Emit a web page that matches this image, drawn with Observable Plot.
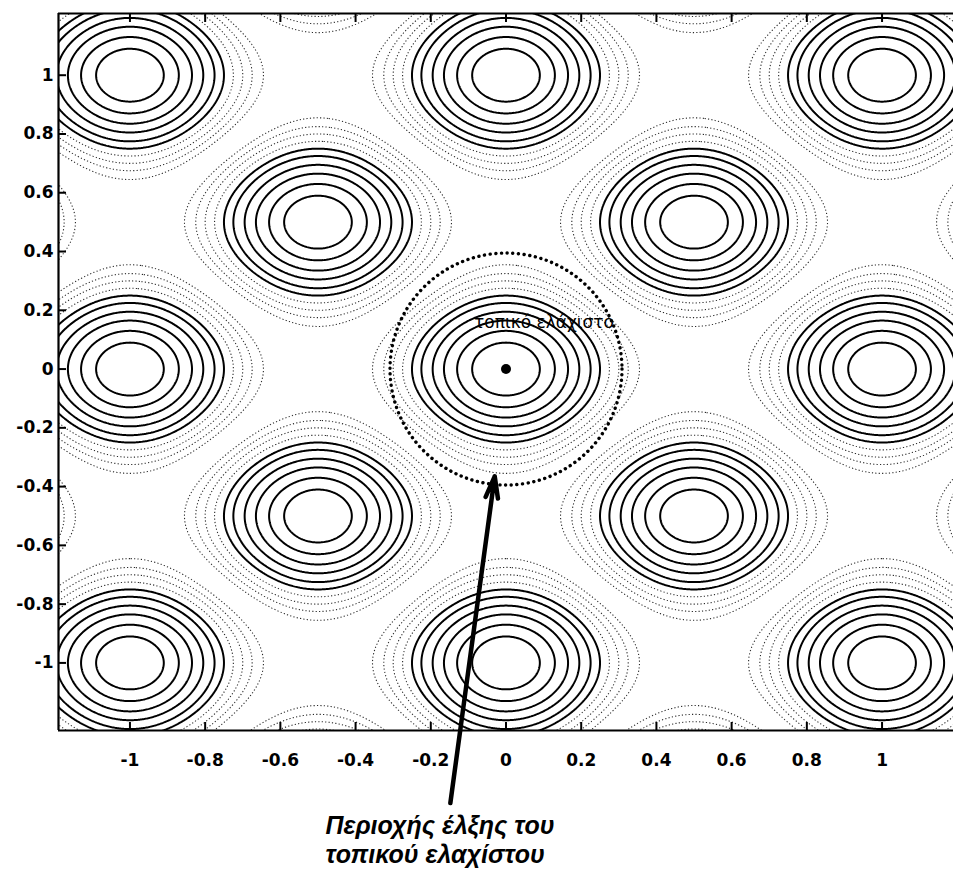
<!DOCTYPE html>
<html>
<head>
<meta charset="utf-8">
<script src="https://cdn.jsdelivr.net/npm/d3@7"></script>
<script src="https://cdn.jsdelivr.net/npm/@observablehq/plot@0.6"></script>
<style>
  body { margin: 0; background: #fff; }
  #chart svg { display: block; }
</style>
</head>
<body>
<div id="chart"></div>
<script>
// Positions of the local minima (centres of the ring families)
// (including the ones just outside the frame whose rings enter at the edges).
const minimaX = [-1.5, -0.5, 0.5, 1.5,  -1, 0, 1,  -1.5, -0.5, 0.5, 1.5,  -1, 0, 1,  -1.5, -0.5, 0.5, 1.5,  -1, 0, 1,  -1.5, -0.5, 0.5, 1.5];
const minimaY = [ 1.5,  1.5, 1.5, 1.5,   1, 1, 1,   0.5,  0.5, 0.5, 0.5,   0, 0, 0,  -0.5, -0.5, -0.5, -0.5, -1, -1, -1,  -1.5, -1.5, -1.5, -1.5];

// Radii of the contour rings (along the axes, data units)
const ringRadii = [0.09, 0.13, 0.165, 0.195, 0.225, 0.25, 0.275, 0.3, 0.325, 0.355];
const solidRingCount = 6;

const xTicks = [-1, -0.8, -0.6, -0.4, -0.2, 0, 0.2, 0.4, 0.6, 0.8, 1];
const yTicks = [-1, -0.8, -0.6, -0.4, -0.2, 0, 0.2, 0.4, 0.6, 0.8, 1];
const xDomain = [-1.19, 1.19];
const yDomain = [-1.23, 1.21];

const localMinimum = [{x: 0, y: 0}];
const minimumLabel = "τοπικό ελάχιστο";
const basinLabel = "Περιοχής έλξης του\nτοπικού ελαχίστου";

// depth of one basin: round near its minimum, squeezed onto the diamond-shaped cell border
const sigma = 0.2;
function basin(dx, dy) {
  if (Math.abs(dx) + Math.abs(dy) >= 0.5) return 0;
  const a = Math.cos(Math.PI * (dx + dy)), b = Math.cos(Math.PI * (dx - dy));
  return Math.exp(-(dx * dx + dy * dy) / (2 * sigma * sigma)) * a * b;
}
function field(x, y) {
  let m = 0;
  for (let k = 0; k < minimaX.length; k++) m = Math.max(m, basin(x - minimaX[k], y - minimaY[k]));
  return 1 - m;
}
const levels = ringRadii.map(r => 1 - basin(r, 0));
const solidLevels = levels.slice(0, solidRingCount);
const dottedLevels = levels.slice(solidRingCount);

const font = "DejaVu Sans, Verdana, sans-serif";
const noteFont = "Liberation Sans, Arial, Helvetica, sans-serif";
const grid = {x1: -1.4, x2: 1.4, y1: -1.45, y2: 1.45, value: field, pixelSize: 1, fill: "none", clip: true};

const chart = Plot.plot({
  width: 953,
  height: 874,
  marginLeft: 58,
  marginRight: 0,
  marginTop: 13,
  marginBottom: 144,
  x: {domain: xDomain},
  y: {domain: yDomain},
  style: {fontFamily: font, background: "#fff", color: "#000"},
  marks: [
    Plot.contour({...grid, thresholds: dottedLevels, stroke: "#2a2a2a", strokeWidth: 1.1, strokeDasharray: "1.2,2.2"}),
    Plot.contour({...grid, thresholds: solidLevels, stroke: "#000", strokeWidth: 2}),
    Plot.dot(localMinimum, {x: "x", y: "y", r: 116, fill: "none", stroke: "#000", strokeWidth: 3.4, strokeDasharray: "0.1,5.6", strokeLinecap: "round"}),
    Plot.dot(localMinimum, {x: "x", y: "y", r: 5, fill: "#000", stroke: "none"}),
    Plot.text(localMinimum, {x: () => -0.085, y: () => 0.158, text: () => minimumLabel, textAnchor: "start", fontSize: 17, fontFamily: font, fill: "#000"}),
    Plot.arrow(localMinimum, {x1: () => -0.148, y1: () => -1.477, x2: () => -0.03, y2: () => -0.365, stroke: "#000", strokeWidth: 4.5, headLength: 7.5, headAngle: 32}),
    Plot.text(localMinimum, {x: () => -0.48, y: () => -1.6, text: () => basinLabel, textAnchor: "start", lineAnchor: "middle", lineHeight: 1.15, fontSize: 25, fontStyle: "italic", fontWeight: "bold", fontFamily: noteFont, fill: "#000"}),
    Plot.ruleX([xDomain[0]], {stroke: "#000", strokeWidth: 2.2}),
    Plot.ruleY(yDomain, {stroke: "#000", strokeWidth: 2.2}),
    Plot.axisX(xTicks, {anchor: "bottom", tickSize: -8, tickPadding: 31, tickFormat: d => String(d), fontSize: 17, fontWeight: "bold", fontFamily: font, strokeWidth: 2, label: null}),
    Plot.axisX(xTicks, {anchor: "top", tickSize: -8, tickFormat: () => "", strokeWidth: 2, label: null}),
    Plot.axisY(yTicks, {anchor: "left", tickSize: -8, tickPadding: 13, tickFormat: d => String(d), fontSize: 17, fontWeight: "bold", fontFamily: font, strokeWidth: 2, label: null})
  ]
});
document.getElementById("chart").appendChild(chart);
</script>
</body>
</html>
